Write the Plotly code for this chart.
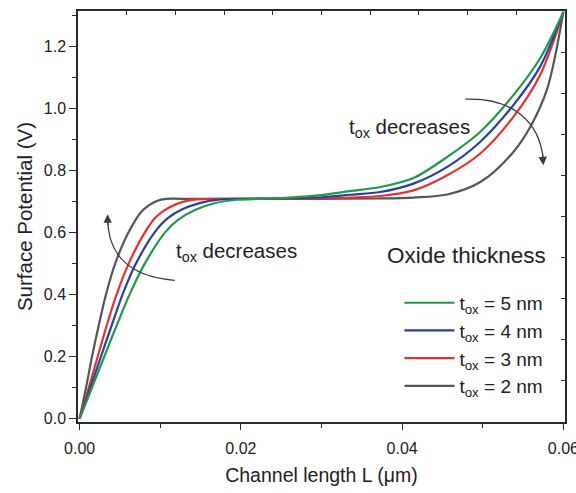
import plotly.graph_objects as go

# ---- data ----
x_2nm = [0, 0.0008, 0.00154, 0.00237, 0.00327, 0.00442, 0.00607, 0.0078, 0.00965, 0.0108, 0.0125, 0.02, 0.03, 0.037, 0.0414, 0.0456, 0.0497, 0.0538, 0.0559, 0.058, 0.06]
y_2nm = [0, 0.1, 0.2, 0.3, 0.4, 0.5, 0.6, 0.67, 0.702, 0.708, 0.708, 0.708, 0.708, 0.709, 0.712, 0.722, 0.762, 0.859, 0.94, 1.063, 1.31]

x_3nm = [0, 0.00114, 0.00225, 0.00336, 0.00459, 0.0061, 0.0081, 0.0095, 0.0111, 0.0128, 0.0145, 0.018, 0.024, 0.03, 0.0335, 0.0373, 0.0414, 0.0456, 0.0497, 0.0538, 0.0571, 0.06]
y_3nm = [0, 0.1, 0.2, 0.3, 0.4, 0.5, 0.6, 0.65, 0.68, 0.698, 0.706, 0.708, 0.708, 0.709, 0.712, 0.717, 0.735, 0.784, 0.854, 0.972, 1.106, 1.31]

x_4nm = [0, 0.00133, 0.00265, 0.00398, 0.00533, 0.0070, 0.0093, 0.0109, 0.0128, 0.0150, 0.0172, 0.020, 0.025, 0.03, 0.0335, 0.0373, 0.0414, 0.0456, 0.0497, 0.0538, 0.0571, 0.06]
y_4nm = [0, 0.1, 0.2, 0.3, 0.4, 0.5, 0.6, 0.645, 0.675, 0.695, 0.705, 0.708, 0.709, 0.713, 0.721, 0.73, 0.757, 0.811, 0.892, 1.010, 1.133, 1.31]

x_5nm = [0, 0.00154, 0.00306, 0.0046, 0.0062, 0.0081, 0.0106, 0.0122, 0.0143, 0.0166, 0.0195, 0.0225, 0.026, 0.03, 0.0335, 0.0373, 0.0414, 0.0456, 0.0497, 0.0538, 0.0571, 0.06]
y_5nm = [0, 0.1, 0.2, 0.3, 0.4, 0.5, 0.6, 0.64, 0.672, 0.693, 0.705, 0.708, 0.712, 0.72, 0.733, 0.746, 0.775, 0.843, 0.924, 1.042, 1.160, 1.31]

series_names = ["t<sub>ox</sub> = 5 nm", "t<sub>ox</sub> = 4 nm", "t<sub>ox</sub> = 3 nm", "t<sub>ox</sub> = 2 nm"]
series_colors = ["#1f9a48", "#2b3f9e", "#e8302f", "#555555"]

x_ticks = [0.00, 0.02, 0.04, 0.06]
x_ticklabels = ["0.00", "0.02", "0.04", "0.06"]
y_ticks = [0.0, 0.2, 0.4, 0.6, 0.8, 1.0, 1.2]
y_ticklabels = ["0.0", "0.2", "0.4", "0.6", "0.8", "1.0", "1.2"]

FONT = "Liberation Sans, Arial, sans-serif"
AX = "#2a2a2a"

fig = go.Figure()
data_sets = [(x_5nm, y_5nm), (x_4nm, y_4nm), (x_3nm, y_3nm), (x_2nm, y_2nm)]
# draw gray first, green last (on top); legend order 5,4,3,2
for idx in [3, 2, 1, 0]:
    xs, ys = data_sets[idx]
    fig.add_trace(go.Scatter(
        x=xs, y=ys, mode="lines", name=series_names[idx],
        line=dict(color=series_colors[idx], width=2.2, shape="spline", smoothing=0.9),
        legendrank=idx + 1, legendgroup=str(idx),
    ))

# dummy trace to enable the mirrored top/right axes
fig.add_trace(go.Scatter(x=[], y=[], xaxis="x2", yaxis="y2", showlegend=False))

fig.update_layout(
    width=576, height=493,
    margin=dict(l=78, r=11, t=11, b=71),
    paper_bgcolor="white", plot_bgcolor="white",
    font=dict(family=FONT, color="#222", size=16),
    showlegend=True,
    legend=dict(
        x=0.66, y=0.336, xanchor="left", yanchor="top",
        bgcolor="rgba(0,0,0,0)", font=dict(size=19, family=FONT, color="#222"),
        itemwidth=50, tracegroupgap=11.5, traceorder="normal",
    ),
    xaxis=dict(
        range=[-0.0002, 0.0602], tickvals=x_ticks, ticktext=x_ticklabels,
        ticks="outside", ticklen=6, tickwidth=1.3, tickcolor=AX,
        minor=dict(dtick=0.01, tick0=0, ticks="outside", ticklen=4, tickwidth=1.3, tickcolor=AX),
        showline=True, linecolor=AX, linewidth=1.5, showgrid=False, zeroline=False,
        tickfont=dict(size=16), ticklabelstandoff=5, automargin=False,
        ticklabeloverflow="allow",
        title=dict(text="Channel length L (\u03bcm)", font=dict(size=19.5), standoff=12),
    ),
    yaxis=dict(
        range=[-0.011, 1.313], tickvals=y_ticks, ticktext=y_ticklabels,
        ticks="outside", ticklen=7, tickwidth=1.3, tickcolor=AX,
        minor=dict(dtick=0.1, tick0=0, ticks="outside", ticklen=4, tickwidth=1.3, tickcolor=AX),
        showline=True, linecolor=AX, linewidth=1.5, showgrid=False, zeroline=False,
        tickfont=dict(size=16), automargin=False,
        title=dict(text="Surface Potential (V)", font=dict(size=20.5), standoff=6),
    ),
    xaxis2=dict(
        overlaying="x", side="top", anchor="y2", range=[0, 1], dtick=0.1, tick0=0,
        ticks="inside", ticklen=4, tickwidth=1.3, tickcolor=AX,
        showticklabels=False, showline=True, linecolor=AX, linewidth=1.5,
        showgrid=False, zeroline=False, automargin=False,
    ),
    yaxis2=dict(
        overlaying="y", side="right", anchor="x2", range=[0, 1], dtick=0.1, tick0=0,
        ticks="inside", ticklen=4, tickwidth=1.3, tickcolor=AX,
        showticklabels=False, showline=True, linecolor=AX, linewidth=1.5,
        showgrid=False, zeroline=False, automargin=False,
    ),
)

# curved arrows (annotation graphics)
ARC = "#3a3a3a"
fig.add_shape(type="path", xref="x", yref="y",
              path="M 0.01180,0.4452 C 0.00559,0.4581 0.00348,0.5419 0.00348,0.6450",
              line=dict(color=ARC, width=1.3))
fig.add_annotation(x=0.00348, y=0.6581, xref="x", yref="y", ax=0, ay=12, text="",
                   showarrow=True, arrowhead=2, arrowsize=1.3, arrowwidth=1.3, arrowcolor=ARC)
fig.add_shape(type="path", xref="x", yref="y",
              path="M 0.04783,1.0290 C 0.05342,1.0355 0.05714,0.9613 0.05752,0.8290",
              line=dict(color=ARC, width=1.3))
fig.add_annotation(x=0.05752, y=0.8161, xref="x", yref="y", ax=-1, ay=-12, text="",
                   showarrow=True, arrowhead=2, arrowsize=1.3, arrowwidth=1.3, arrowcolor=ARC)

fig.add_annotation(x=0.197, y=0.414, xref="paper", yref="paper", xanchor="left", yanchor="middle",
                   text="t<sub>ox</sub> decreases", showarrow=False, font=dict(size=20.5, color="#222"))
fig.add_annotation(x=0.553, y=0.715, xref="paper", yref="paper", xanchor="left", yanchor="middle",
                   text="t<sub>ox</sub> decreases", showarrow=False, font=dict(size=20.5, color="#222"))
fig.add_annotation(x=0.630, y=0.406, xref="paper", yref="paper", xanchor="left", yanchor="middle",
                   text="Oxide thickness", showarrow=False, font=dict(size=22.5, color="#222"))

fig.write_html("out.html")
